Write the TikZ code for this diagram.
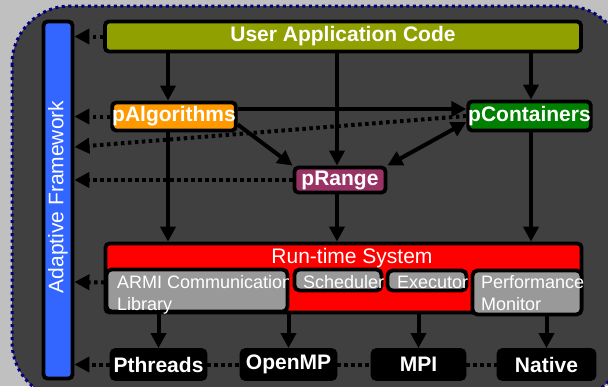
\documentclass[tikz,border=0pt]{standalone}
\usepackage{fontspec}
\setmainfont{Liberation Sans}
\usetikzlibrary{arrows.meta,calc}
\definecolor{outerbg}{RGB}{192,192,192}
\definecolor{darkbg}{RGB}{64,64,64}
\definecolor{navyc}{RGB}{0,0,128}
\definecolor{olivec}{RGB}{144,160,0}
\definecolor{orangec}{RGB}{255,153,0}
\definecolor{greenc}{RGB}{0,128,0}
\definecolor{maroonc}{RGB}{153,51,102}
\definecolor{redc}{RGB}{255,0,0}
\definecolor{grayc}{RGB}{153,153,153}
\definecolor{bluec}{RGB}{51,102,255}
\begin{document}
\begin{tikzpicture}[x=1pt,y=-1pt,
  box/.style={draw=black,line width=3.8pt,rounded corners=4pt,inner sep=0pt,text=white,
    font=\fontsize{21}{25}\selectfont\bfseries},
  sub/.style={draw=black,line width=3.8pt,rounded corners=5pt,fill=grayc,inner sep=0pt},
  lbl/.style={text=white,font=\fontsize{18}{22}\selectfont,inner sep=0pt,anchor=base west},
  arr/.style={line width=4pt,-{Triangle[length=15pt,width=15pt]}},
  dotl/.style={line width=4pt,dash pattern=on 3.5pt off 3.5pt},
  darr/.style={dotl,-{Triangle[length=15pt,width=15pt]}},
]
\useasboundingbox (0,0) rectangle (608,386);
\clip (0,0) rectangle (608,386);
\fill[outerbg] (0,0) rectangle (608,386);
\draw[fill=darkbg,draw=navyc,line width=3pt,dash pattern=on 3pt off 3.5pt,rounded corners=58pt]
  (12,6) rectangle (624,400);

% column coordinates
\coordinate (xa) at (168,0);
\coordinate (xr) at (337,0);
\coordinate (xc) at (531,0);
\coordinate (yslant) at (0,147);

% nodes
\node[box,fill=bluec,minimum width=29,minimum height=357] (af) at (58,200) {};
\node[rotate=90,text=white,font=\fontsize{21}{25}\selectfont,inner sep=0pt] (afT) at (58,197) {Adaptive Framework};

\node[box,fill=olivec,minimum width=476,minimum height=30] (uac) at (343,36.5) {User Application Code};
\node[box,fill=orangec,minimum width=123,minimum height=28] (pal) at (174,116.5) {pAlgorithms};
\node[box,fill=greenc,minimum width=122,minimum height=29] (pco) at (529.5,116) {pContainers};
\node[box,fill=maroonc,minimum width=91,minimum height=25] (prg) at (340,180) {pRange};

\node[box,fill=redc,minimum width=476,minimum height=69] (rts) at (343.5,278) {};
\node[text=white,font=\fontsize{21}{25}\selectfont,inner sep=0pt,anchor=base] (rtsT) at (352,263) {Run-time System};
\node[sub,minimum width=181,minimum height=42] (armi) at (197,290.5) {};
\node[sub,minimum width=87,minimum height=21] (sch) at (338,280) {};
\node[sub,minimum width=79,minimum height=20] (exe) at (427,280.5) {};
\node[sub,minimum width=109,minimum height=44] (pm) at (527,292.5) {};
\begin{scope}
  \clip (105,268) rectangle (288,313);
  \node[lbl] (armiT1) at (117,288) {ARMI Communication};
  \node[lbl] (armiT2) at (117,310) {Library};
\end{scope}
\node[lbl] (schT) at (303,288) {Scheduler};
\node[lbl] (exeT) at (397,288) {Executor};
\node[lbl] (pmT1) at (481,288) {Performance};
\node[lbl] (pmT2) at (481,310) {Monitor};

\node[box,fill=black,minimum width=94,minimum height=29] (pth) at (158.5,364.5) {Pthreads};
\node[box,fill=black,minimum width=94,minimum height=29] (omp) at (288.5,364.5) {OpenMP};
\node[box,fill=black,minimum width=92,minimum height=29] (mpi) at (418.5,364.5) {MPI};
\node[box,fill=black,minimum width=96,minimum height=29] (nat) at (546.5,364.5) {Native};

% dotted connectors
\draw[darr] (uac.west) -- (af.east |- uac.west);
\draw[darr] (pal.west) -- (af.east |- pal.west);
\draw[darr] (pco.west) -- (af.east |- yslant);
\draw[darr] (prg.west) -- (af.east |- prg.west);
\draw[darr] ([yshift=8pt]armi.west) -- (af.east |- 0,282);
\draw[darr] (pth.west) -- (af.east |- pth.west);
\draw[dotl] (pth.east) -- (omp.west);
\draw[dotl] (omp.east) -- (mpi.west);
\draw[dotl] (mpi.east) -- (nat.west);

% solid arrows
\draw[arr] (uac.south -| xa) -- (pal.north -| xa);
\draw[arr] (uac.south -| xr) -- (prg.north -| xr);
\draw[arr] (uac.south -| xc) -- (pco.north -| xc);
\draw[arr] (pal.east |- 0,109) -- (pco.west |- 0,109);
\draw[arr] ([yshift=-8pt]pal.east) -- (prg.north west);
\draw[line width=4pt,{Triangle[length=15pt,width=15pt]}-{Triangle[length=15pt,width=15pt]}]
  ([yshift=-6pt]pco.west) -- (prg.north east);
\draw[arr] (pal.south -| xa) -- (rts.north -| xa);
\draw[arr] (prg.south -| xr) -- (rts.north -| xr);
\draw[arr] (pco.south -| xc) -- (rts.north -| xc);
\draw[arr] (armi.south -| pth.north) -- (pth.north);
\draw[arr] (armi.south -| omp.north) -- (omp.north);
\draw[arr] (rts.south -| mpi.north) -- (mpi.north);
\draw[arr] (pm.south -| nat.north) -- (nat.north);
\end{tikzpicture}
\end{document}
